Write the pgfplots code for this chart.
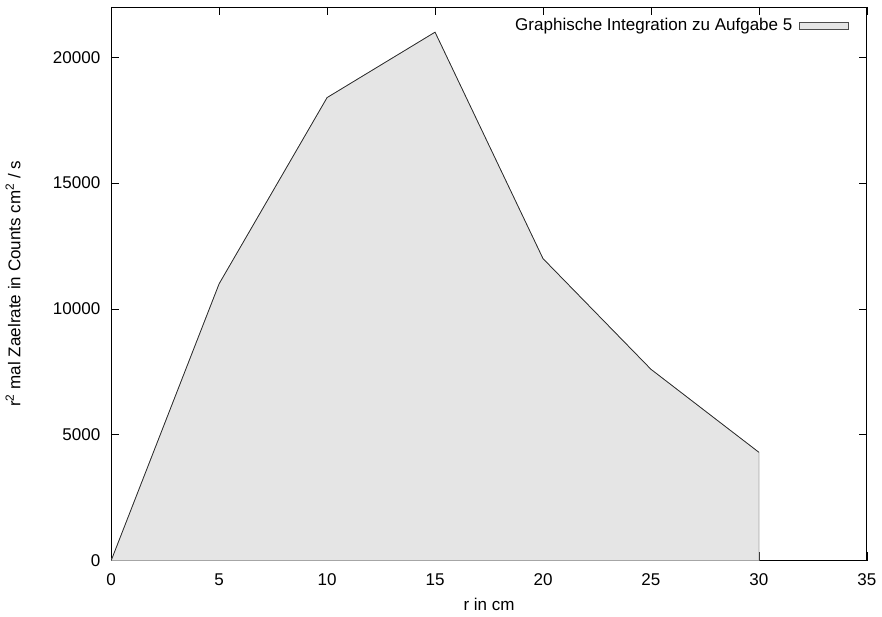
\documentclass[border=0pt]{standalone}
\usepackage{pgfplots}
\pgfplotsset{compat=1.18}
\usepackage{fontspec}
\setmainfont{Liberation Sans}
\definecolor{fillgray}{HTML}{E5E5E5}
\begin{document}
\fontsize{17}{20}\selectfont
\begin{tikzpicture}
\begin{axis}[
  name=ax,
  scale only axis,
  width=755pt, height=553pt,
  xmin=0, xmax=35, ymin=0, ymax=22000,
  xtick={0,5,...,35},
  ytick={0,5000,10000,15000,20000},
  scaled y ticks=false,
  /pgf/number format/.cd, 1000 sep={}, assume math mode=true,
  /pgfplots/.cd,
  tick align=inside,
  major tick length=8pt,
  tick style={black, line width=0.6pt},
  axis line style={black, line width=0.8pt},
  tick label style={font=\fontsize{17}{20}\selectfont},
  xticklabel style={yshift=-7pt},
  yticklabel style={xshift=-5pt},
  label style={font=\fontsize{17}{20}\selectfont},
  xlabel={r in cm},
  ylabel={r\textsuperscript{2} mal Zaelrate in Counts cm\textsuperscript{2} / s},
  xlabel style={yshift=-1pt},
  ylabel style={yshift=21pt},
  legend style={draw=none, fill=none, at={(0.978,0.988)}, anchor=north east,
    font=\fontsize{17}{20}\selectfont, inner sep=2pt},
  legend plot pos=right,
  legend cell align=right,
  legend image code/.code={\path (0pt,0pt); \draw[fill=fillgray, draw=black!70, line width=0.5pt] (5pt,-3.5pt) rectangle (53pt,3.5pt);},
]
\addplot[fill=fillgray, draw=gray!70, line width=0.7pt] coordinates {
(0,0) (5,11000) (10,18400) (15,21000) (20,12000) (25,7600) (30,4300) (30,0)
} -- cycle;
\addlegendentry{Graphische Integration zu Aufgabe 5}
\addplot[draw=black!85, line width=0.7pt, forget plot] coordinates {
(0,0) (5,11000) (10,18400) (15,21000) (20,12000) (25,7600) (30,4300)
};
\end{axis}
\path ([yshift=7pt]ax.north);
\end{tikzpicture}
\end{document}
